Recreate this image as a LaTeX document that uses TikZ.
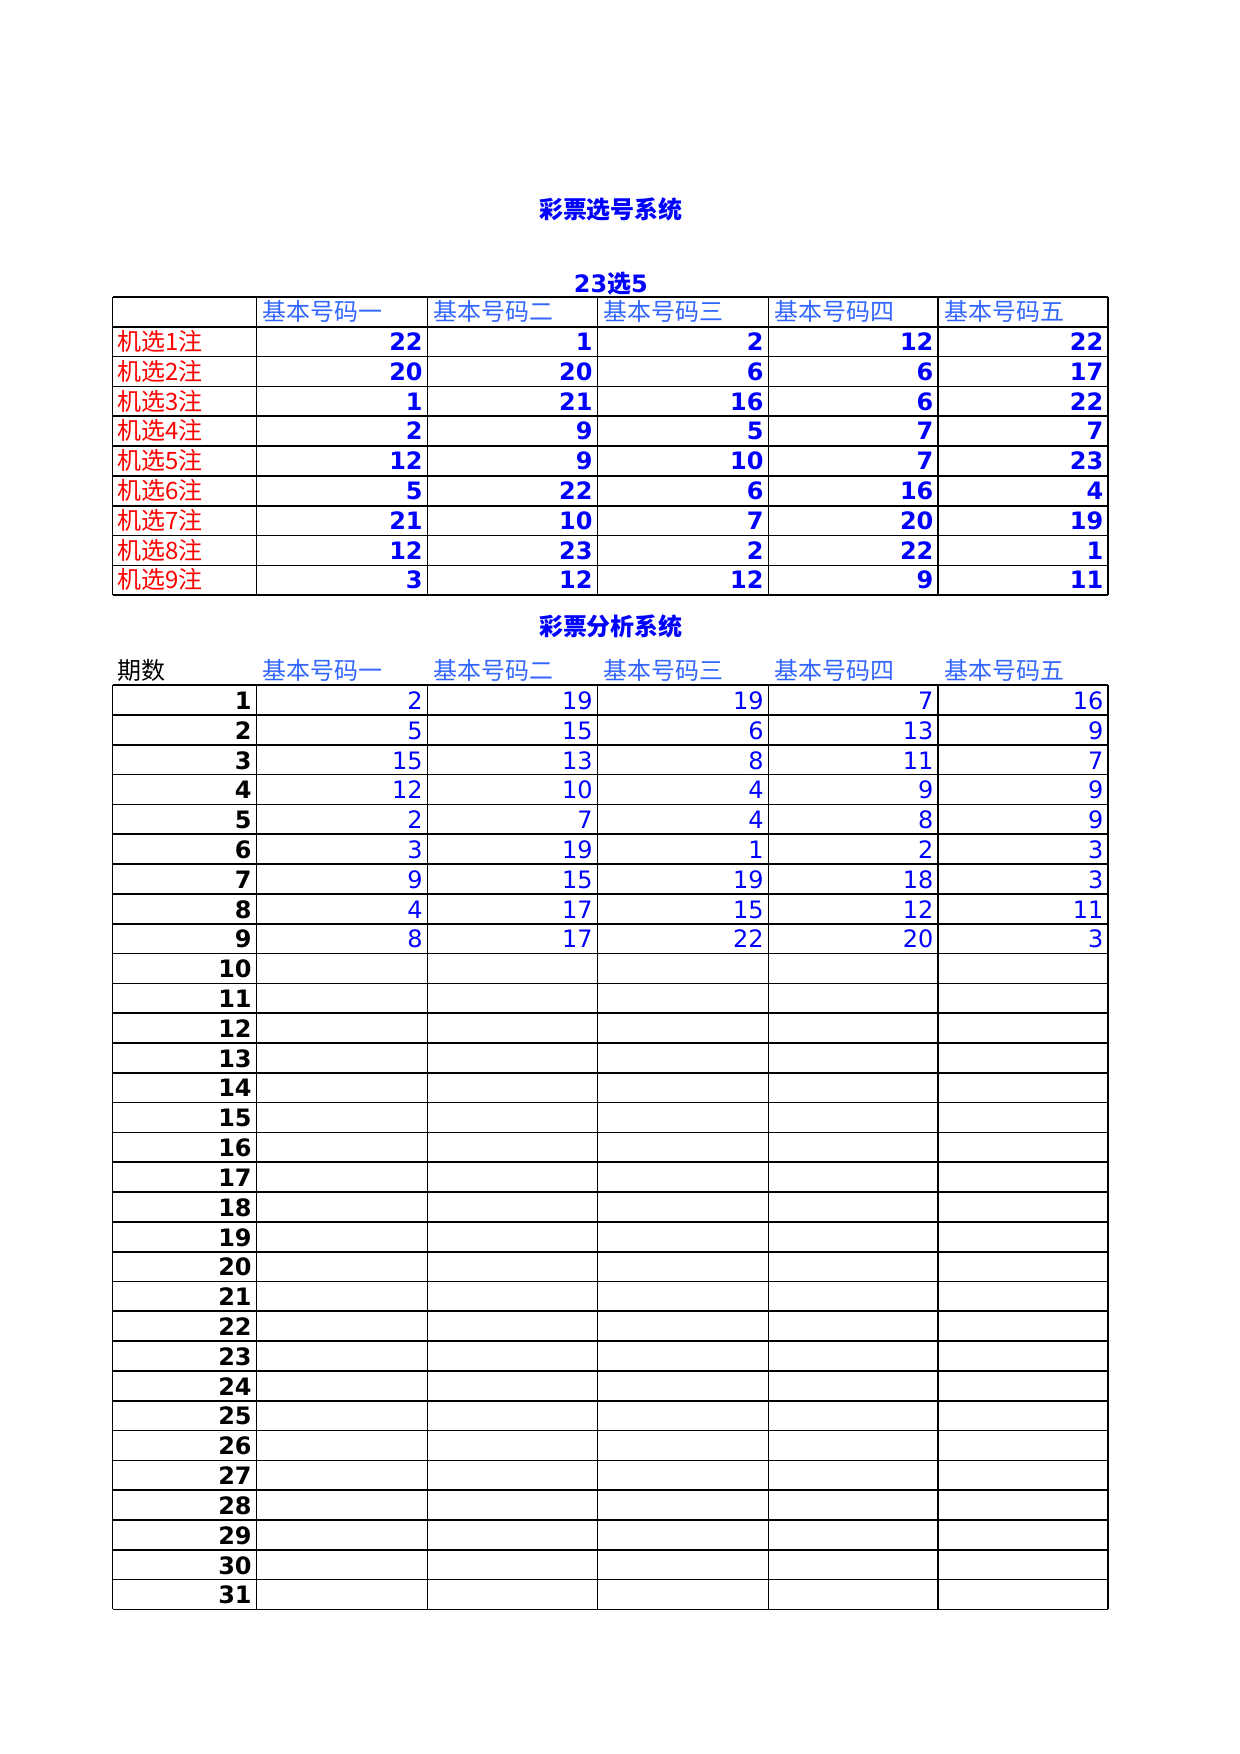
\documentclass[tikz,border=0pt]{standalone}
\usepackage{fontspec}
\setmainfont{DejaVu Sans}
\newfontfamily\cjk{Noto Sans CJK SC}
\definecolor{vb}{RGB}{0,0,255}
\definecolor{lb}{RGB}{51,102,255}
\definecolor{rd}{RGB}{255,0,0}
\begin{document}
\begin{tikzpicture}[x=0.5402pt,y=-0.5402pt,
  tl/.style={line width=0.8pt,black},
  hd/.style={anchor=base west,inner sep=0pt,text=lb,font=\cjk\fontsize{11.5}{12}\selectfont},
  rl/.style={anchor=base west,inner sep=0pt,text=rd,font=\cjk\fontsize{11.5}{12}\selectfont},
  bv/.style={anchor=base east,inner sep=0pt,text=vb,font=\bfseries\fontsize{11.5}{12}\selectfont},
  nv/.style={anchor=base east,inner sep=0pt,text=vb,font=\fontsize{11.5}{12}\selectfont},
  pn/.style={anchor=base east,inner sep=0pt,font=\bfseries\fontsize{11.5}{12}\selectfont},
  tt/.style={inner sep=0pt,text=vb,font=\cjk\bfseries\fontsize{11.5}{12}\selectfont}]
\useasboundingbox (0,0) rectangle (1102,1559);
\node[tt] (t1) at (543,186) {彩票选号系统};
\node[tt,font=\bfseries\fontsize{11.5}{12}\selectfont] (t2) at (543,252) {23{\cjk 选}5};
\node[tt] (t3) at (543,557) {彩票分析系统};
% top table
\foreach \i in {0,...,10} \draw[tl] (100,264+26.5*\i) -- (985,264+26.5*\i);
\foreach \x in {100,228,380,531,683,834,985} \draw[tl] (\x,264) -- (\x,529);
\def\cols{228/基本号码一,380/基本号码二,531/基本号码三,683/基本号码四,834/基本号码五}
\foreach \x/\t in \cols \node[hd] at (\x+5,285) {\t};
\foreach \r/\a/\b/\c/\d/\e [count=\k from 1] in {1/22/1/2/12/22,2/20/20/6/6/17,3/1/21/16/6/22,4/2/9/5/7/7,5/12/9/10/7/23,6/5/22/6/16/4,7/21/10/7/20/19,8/12/23/2/22/1,9/3/12/12/9/11}{
  \pgfmathsetmacro\yb{264+26.5*\k+21}
  \node[rl] at (104,\yb) {机选\r 注};
  \node[bv] at (376,\yb) {\a};
  \node[bv] at (527,\yb) {\b};
  \node[bv] at (679,\yb) {\c};
  \node[bv] at (830,\yb) {\d};
  \node[bv] at (981,\yb) {\e};
}
% bottom table
\node[hd,text=black] at (104,604) {期数};
\foreach \x/\t in \cols \node[hd] at (\x+5,604) {\t};
\foreach \i in {0,...,31} \draw[tl] (100,609+26.5*\i) -- (985,609+26.5*\i);
\foreach \x in {100,228,380,531,683,834,985} \draw[tl] (\x,609) -- (\x,1430);
\foreach \k in {1,...,31}{
  \pgfmathsetmacro\yb{609+26.5*\k-5}
  \node[pn] at (224,\yb) {\k};
}
\foreach \a/\b/\c/\d/\e [count=\k from 1] in {2/19/19/7/16,5/15/6/13/9,15/13/8/11/7,12/10/4/9/9,2/7/4/8/9,3/19/1/2/3,9/15/19/18/3,4/17/15/12/11,8/17/22/20/3}{
  \pgfmathsetmacro\yb{609+26.5*\k-5}
  \node[nv] at (376,\yb) {\a};
  \node[nv] at (527,\yb) {\b};
  \node[nv] at (679,\yb) {\c};
  \node[nv] at (830,\yb) {\d};
  \node[nv] at (981,\yb) {\e};
}
\end{tikzpicture}
\end{document}
